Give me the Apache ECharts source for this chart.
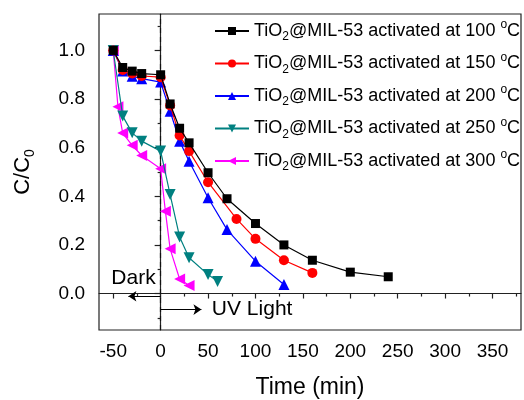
<!DOCTYPE html>
<html><head><meta charset="utf-8">
<script src="https://cdn.jsdelivr.net/npm/echarts@6/dist/echarts.min.js"></script>
<style>html,body{margin:0;padding:0;background:#fff}#c{width:524px;height:400px}</style>
</head><body><div id="c"></div>
<script>
// ---- data ----
const temps = ['100', '150', '200', '250', '300'];
const t100 = [-50, -40, -30, -20, 0, 10, 20, 30, 50, 70, 100, 130, 160, 200, 240];
const c100 = [1.0, 0.93, 0.915, 0.905, 0.90, 0.78, 0.68, 0.62, 0.497, 0.39, 0.288, 0.20, 0.137, 0.088, 0.069];
const t150 = [-50, -40, -30, -20, 0, 10, 20, 30, 50, 80, 100, 130, 160];
const c150 = [1.0, 0.92, 0.905, 0.895, 0.89, 0.774, 0.65, 0.586, 0.458, 0.307, 0.225, 0.137, 0.085];
const t200 = [-50, -40, -30, -20, 0, 10, 20, 30, 50, 70, 100, 130];
const c200 = [1.0, 0.915, 0.894, 0.884, 0.87, 0.75, 0.627, 0.544, 0.394, 0.263, 0.133, 0.037];
const t250 = [-50, -40, -30, -20, 0, 10, 20, 30, 50, 60];
const c250 = [1.0, 0.73, 0.661, 0.627, 0.586, 0.407, 0.233, 0.147, 0.078, 0.05];
const t300 = [-50, -45, -40, -30, -20, 0, 5, 10, 20, 30];
const c300 = [1.0, 0.768, 0.66, 0.61, 0.568, 0.513, 0.339, 0.184, 0.06, 0.033];
const xMajorTicks = [-50, 0, 50, 100, 150, 200, 250, 300, 350];
const xMinorTicks = [-25, 25, 75, 125, 175, 225, 275, 325, 375];
const yMajorTicks = [0.0, 0.2, 0.4, 0.6, 0.8, 1.0];
const yMinorTicks = [-0.1, 0.1, 0.3, 0.5, 0.7, 0.9, 1.1];
const darkArrow = [[0, -0.011], [-34, -0.011]];
const uvArrow = [[0, -0.066], [43, -0.066]];
const darkLabelPos = [-52, 0.065];
const uvLabelPos = [54, -0.066];

const xs = [t100, t150, t200, t250, t300];
const ys = [c100, c150, c200, c250, c300];
const colors = ['#000000', '#ff0000', '#0000ff', '#008080', '#ff00ff'];
const symbols = ['rect', 'circle', 'triangle', 'triangle', 'triangle'];
const rotates = [0, 0, 0, 180, 90];
const sizes = [9, 10, 11, 11, 11];
const FONT = '"Liberation Sans", Arial, sans-serif';

const names = temps.map(t => 'TiO2@MIL-53 activated at ' + t + ' °C');

const series = names.map((n, k) => ({
  name: n, type: 'line', xAxisIndex: 0, yAxisIndex: 0,
  data: xs[k].map((x, i) => [x, ys[k][i]]),
  symbol: symbols[k], symbolSize: sizes[k], symbolRotate: rotates[k],
  itemStyle: { color: colors[k] },
  lineStyle: { color: colors[k], width: 1.2 },
  z: 10 - k
}));
series[0].markLine = {
  silent: true, symbol: 'none', animation: false,
  label: { show: false },
  lineStyle: { color: '#111', type: [5, 4], width: 1.2 },
  data: [{ xAxis: 0 }]
};
series[1].markLine = {
  silent: true, symbol: ['none', 'arrow'], symbolSize: 8, animation: false,
  label: { show: false },
  lineStyle: { color: '#000', type: 'solid', width: 1.2 },
  data: [
    [{ coord: darkArrow[0] }, { coord: darkArrow[1] }],
    [{ coord: uvArrow[0] }, { coord: uvArrow[1] }]
  ]
};

const chart = echarts.init(document.getElementById('c'), null, { renderer: 'canvas' });
chart.setOption({
  animation: false,
  backgroundColor: '#fff',
  textStyle: { fontFamily: FONT },
  grid: { left: 99, right: 3, top: 14, bottom: 70, show: true, borderColor: '#222', borderWidth: 1.2, backgroundColor: '#fff', containLabel: false, outerBoundsMode: 'none' },
  legend: {
    left: 214, top: 19, padding: 0, orient: 'vertical', itemWidth: 34, itemHeight: 10, itemGap: 8.5,
    selectedMode: false,
    formatter: n => n.replace('TiO2', 'TiO{sub|2}').replace(' °C', ' {sup|o}C'),
    textStyle: {
      fontFamily: FONT, fontSize: 18, color: '#000', lineHeight: 24,
      rich: {
        sub: { fontFamily: FONT, fontSize: 12, lineHeight: 10, verticalAlign: 'bottom', color: '#000' },
        sup: { fontFamily: FONT, fontSize: 12, lineHeight: 12, verticalAlign: 'top', color: '#000' }
      }
    }
  },
  xAxis: [{
    type: 'value', min: -65, max: 380, position: 'bottom',
    name: 'Time (min)', nameLocation: 'middle', nameGap: 46,
    nameTextStyle: { fontFamily: FONT, fontSize: 23, color: '#000', lineHeight: 24 },
    axisLine: { show: true, lineStyle: { color: '#222', width: 1.2 } },
    axisTick: { show: true, inside: false, length: 5, customValues: xMajorTicks, lineStyle: { color: '#222', width: 1.2 } },
    axisLabel: { show: true, customValues: xMajorTicks, fontFamily: FONT, fontSize: 19, color: '#000', margin: 12 },
    splitLine: { show: false }
  }, {
    type: 'value', min: -65, max: 380, position: 'bottom', gridIndex: 0,
    axisLine: { show: false },
    axisTick: { show: true, inside: false, length: 3, customValues: xMinorTicks, lineStyle: { color: '#222', width: 1.2 } },
    axisLabel: { show: false },
    splitLine: { show: false }
  }],
  yAxis: [{
    type: 'value', min: -0.15, max: 1.15, position: 'left',
    name: 'C/C{sub|0}', nameLocation: 'middle', nameGap: 62, nameRotate: 90,
    nameTextStyle: {
      fontFamily: FONT, fontSize: 22, color: '#000', lineHeight: 28,
      rich: { sub: { fontFamily: FONT, fontSize: 14, lineHeight: 12, verticalAlign: 'bottom', color: '#000' } }
    },
    axisLine: { show: true, lineStyle: { color: '#222', width: 1.2 } },
    axisTick: { show: true, inside: false, length: 6, customValues: yMajorTicks, lineStyle: { color: '#222', width: 1.2 } },
    axisLabel: { show: true, customValues: yMajorTicks, formatter: v => v.toFixed(1), fontFamily: FONT, fontSize: 19, color: '#000', margin: 14 },
    splitLine: { show: false }
  }, {
    type: 'value', min: -0.15, max: 1.15, position: 'left', gridIndex: 0,
    axisLine: { show: false },
    axisTick: { show: true, inside: false, length: 3, customValues: yMinorTicks, lineStyle: { color: '#222', width: 1.2 } },
    axisLabel: { show: false },
    splitLine: { show: false }
  }],
  series: series
});

const pDark = chart.convertToPixel({ gridIndex: 0 }, darkLabelPos);
const pUV = chart.convertToPixel({ gridIndex: 0 }, uvLabelPos);
chart.setOption({
  graphic: [
    { type: 'text', x: pDark[0], y: pDark[1], z: 100, style: { text: 'Dark', fontFamily: FONT, fontSize: 21, fill: '#000', verticalAlign: 'middle' } },
    { type: 'text', x: pUV[0], y: pUV[1], z: 100, style: { text: 'UV Light', fontFamily: FONT, fontSize: 21, fill: '#000', verticalAlign: 'middle' } }
  ]
});
</script>
</body></html>
